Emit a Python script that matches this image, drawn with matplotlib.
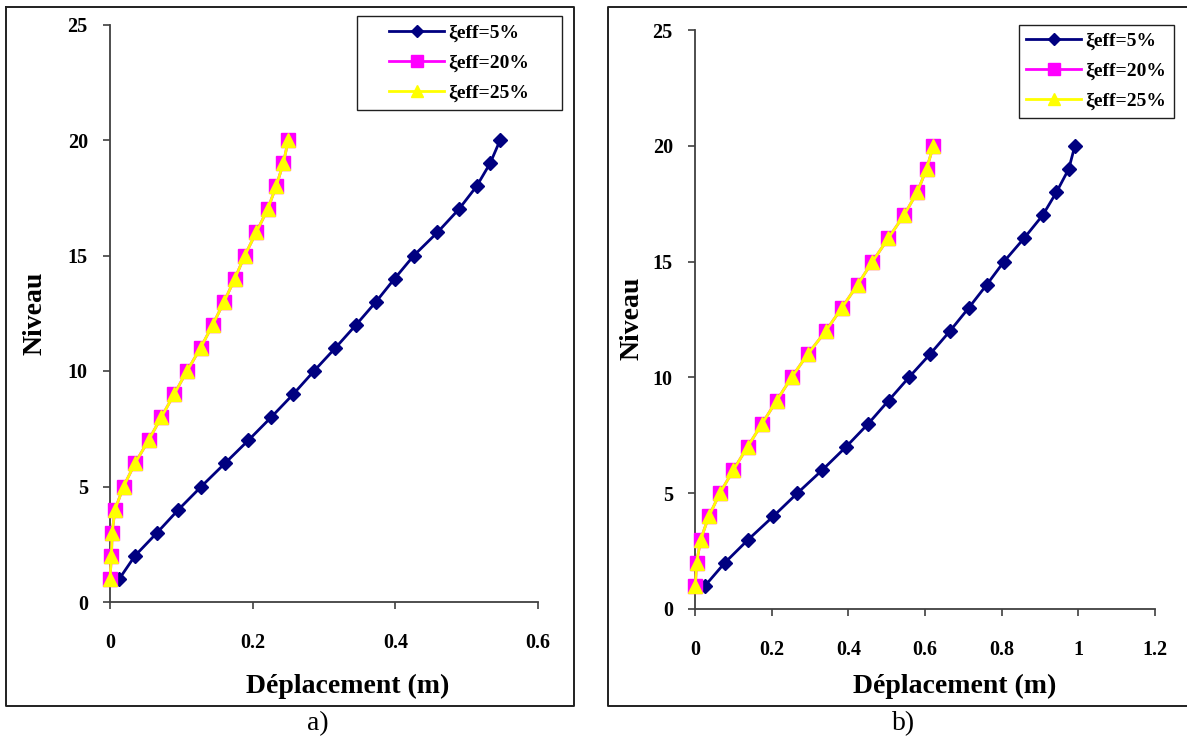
import matplotlib
matplotlib.use("Agg")
import matplotlib.pyplot as plt
from matplotlib.lines import Line2D
from matplotlib.patches import Rectangle

# ---------------- data ----------------
levels = list(range(1, 21))

a_xi5 = [0.013, 0.035, 0.066, 0.096, 0.128, 0.161, 0.194, 0.226, 0.257, 0.286,
         0.316, 0.345, 0.373, 0.399, 0.426, 0.459, 0.489, 0.514, 0.533, 0.547]
a_xi20 = [0.000, 0.002, 0.003, 0.007, 0.019, 0.035, 0.054, 0.072, 0.090, 0.108,
          0.127, 0.144, 0.160, 0.175, 0.189, 0.205, 0.221, 0.233, 0.243, 0.250]
a_xi25 = [0.000, 0.002, 0.003, 0.007, 0.019, 0.035, 0.054, 0.072, 0.090, 0.108,
          0.127, 0.144, 0.160, 0.175, 0.189, 0.205, 0.221, 0.233, 0.243, 0.250]

b_xi5 = [0.026, 0.078, 0.139, 0.204, 0.267, 0.332, 0.394, 0.452, 0.505, 0.558,
         0.613, 0.665, 0.714, 0.761, 0.806, 0.858, 0.907, 0.943, 0.975, 0.991]
b_xi20 = [0.001, 0.004, 0.015, 0.036, 0.065, 0.100, 0.137, 0.175, 0.213, 0.252,
          0.294, 0.341, 0.383, 0.424, 0.463, 0.504, 0.545, 0.580, 0.604, 0.622]
b_xi25 = [0.001, 0.004, 0.015, 0.036, 0.065, 0.100, 0.137, 0.175, 0.213, 0.252,
          0.294, 0.341, 0.383, 0.424, 0.463, 0.504, 0.545, 0.580, 0.604, 0.622]

series_labels = ["ξeff=5%", "ξeff=20%", "ξeff=25%"]
a_xticks = [0, 0.2, 0.4, 0.6]
b_xticks = [0, 0.2, 0.4, 0.6, 0.8, 1.0, 1.2]
yticks = [0, 5, 10, 15, 20, 25]
xlabel = "Déplacement (m)"
ylabel = "Niveau"
panel_labels = ["a)", "b)"]

# ---------------- style ----------------
W, H = 1187, 742
plt.rcParams['font.family'] = ['Liberation Serif', 'DejaVu Serif']
NAVY, MAG, YEL = '#000080', '#FF00FF', '#FFFF00'
AXC = '#404040'

fig = plt.figure(figsize=(W / 100, H / 100), dpi=100)


def fx(px):
    return px / W


def fy(py):
    return 1 - py / H


def make_axes(x0, x1, y0, y1):
    return fig.add_axes([fx(x0), fy(y0), fx(x1) - fx(x0), fy(y1) - fy(y0)])


def style_axes(ax, xmax, xticks):
    ax.set_xlim(0, xmax)
    ax.set_ylim(0, 25)
    ax.set_xticks(xticks)
    ax.set_xticklabels([('%g' % t) for t in xticks])
    ax.set_yticks(yticks)
    ax.set_yticklabels([str(t) for t in yticks])
    for s in ['top', 'right']:
        ax.spines[s].set_visible(False)
    for s in ['left', 'bottom']:
        ax.spines[s].set_color(AXC)
        ax.spines[s].set_linewidth(1.3)
    ax.tick_params(axis='x', direction='out', length=5, width=1.2, color=AXC,
                   pad=17, labelsize=14.5)
    ax.tick_params(axis='y', direction='out', length=5, width=1.2, color=AXC,
                   pad=11, labelsize=14.5)
    for lab in ax.get_xticklabels() + ax.get_yticklabels():
        lab.set_fontweight('bold')
    ax.patch.set_alpha(0)
    for sp in ax.spines.values():
        sp.set_clip_on(False)


def plot_series(ax, x5, x20, x25):
    ax.plot(x5, levels, color=NAVY, lw=2.0, marker='D', ms=7.5,
            mfc=NAVY, mec=NAVY, clip_on=False, zorder=3)
    ax.plot(x20, levels, color=MAG, lw=2.0, marker='s', ms=9.5,
            mfc=MAG, mec=MAG, clip_on=False, zorder=4)
    ax.plot(x25, levels, color=YEL, lw=2.0, marker='^', ms=10,
            mfc=YEL, mec=YEL, clip_on=False, zorder=5)


axa = make_axes(110, 538, 602, 24.5)
plot_series(axa, a_xi5, a_xi20, a_xi25)
style_axes(axa, 0.6, a_xticks)

axb = make_axes(695, 1155, 609, 30)
plot_series(axb, b_xi5, b_xi20, b_xi25)
style_axes(axb, 1.2, b_xticks)

# axis labels
fig.text(fx(348), fy(686), xlabel, ha='center', va='center', fontsize=20, fontweight='bold')
fig.text(fx(955), fy(686), xlabel, ha='center', va='center', fontsize=20, fontweight='bold')
fig.text(fx(35), fy(313), ylabel, ha='center', va='center', fontsize=20, fontweight='bold', rotation=90)
fig.text(fx(632), fy(318), ylabel, ha='center', va='center', fontsize=20, fontweight='bold', rotation=90)

# panel labels
fig.text(fx(318), fy(724), panel_labels[0], ha='center', va='center', fontsize=20)
fig.text(fx(904), fy(724), panel_labels[1], ha='center', va='center', fontsize=20)

# legends
def legend_handles():
    return [
        Line2D([], [], color=NAVY, lw=2.0, marker='D', ms=6, mfc=NAVY, mec=NAVY),
        Line2D([], [], color=MAG, lw=2.0, marker='s', ms=8, mfc=MAG, mec=MAG),
        Line2D([], [], color=YEL, lw=2.0, marker='^', ms=8.5, mfc=YEL, mec=YEL),
    ]


def add_legend(box, handlelen, textpad):
    x0, y0, x1, y1 = box
    fig.add_artist(Rectangle((fx(x0), fy(y1)), fx(x1) - fx(x0), fy(y0) - fy(y1),
                             transform=fig.transFigure, fill=True, fc='white',
                             ec='#202020', lw=1.0, zorder=10))
    leg = fig.legend(legend_handles(), series_labels, loc='center',
                     bbox_to_anchor=(fx((x0 + x1) / 2), fy((y0 + y1) / 2)),
                     bbox_transform=fig.transFigure, frameon=False,
                     prop={'weight': 'bold', 'size': 14},
                     handlelength=handlelen, handletextpad=textpad,
                     labelspacing=0.62, borderpad=0, borderaxespad=0)
    leg.set_zorder(11)


add_legend((357, 16, 562, 110), 2.8, 0.25)
add_legend((1019, 25, 1174, 118), 2.8, 0.25)

# outer boxes
def fline(xs, ys, lw=1.4, color='#202020'):
    fig.add_artist(Line2D([fx(x) for x in xs], [fy(y) for y in ys],
                          transform=fig.transFigure, color=color, lw=lw))


fline([6, 574, 574, 6, 6], [7, 7, 706, 706, 7])
fline([W + 5, 608, 608, W + 5], [7, 7, 706, 706])

fig.savefig('out.png', dpi=100)
